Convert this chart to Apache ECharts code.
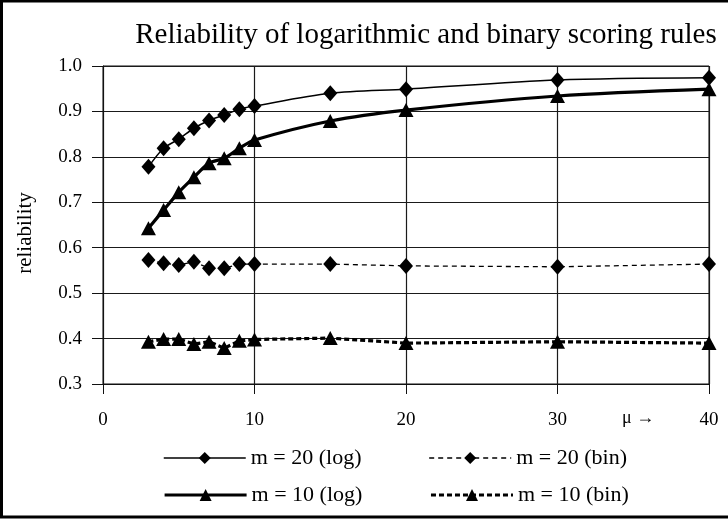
<!DOCTYPE html>
<html>
<head>
<meta charset="utf-8">
<script src="https://cdn.jsdelivr.net/npm/echarts@6/dist/echarts.min.js"></script>
<style>
html,body{margin:0;padding:0;background:#fff;}
#main{width:728px;height:519px;}
</style>
</head>
<body>
<div id="main"></div>
<script>
var xValues = [3, 4, 5, 6, 7, 8, 9, 10, 15, 20, 30, 40];
var m20log = [0.778, 0.819, 0.839, 0.863, 0.880, 0.892, 0.905, 0.912, 0.940, 0.949, 0.969, 0.974];
var m10log = [0.643, 0.683, 0.722, 0.755, 0.786, 0.797, 0.819, 0.837, 0.879, 0.903, 0.934, 0.949];
var m20bin = [0.573, 0.566, 0.562, 0.569, 0.555, 0.555, 0.564, 0.564, 0.564, 0.560, 0.558, 0.564];
var m10bin = [0.393, 0.399, 0.399, 0.388, 0.393, 0.379, 0.395, 0.398, 0.401, 0.390, 0.393, 0.390];
var seriesNames = ['m = 20 (log)', 'm = 20 (bin)', 'm = 10 (log)', 'm = 10 (bin)'];
var titleText = 'Reliability of logarithmic and binary scoring rules';
var yName = 'reliability';
var xNameText = 'μ →';

function pairs(ys) { return xValues.map(function (x, i) { return [x, ys[i]]; }); }

var FONT = '"Liberation Serif", "DejaVu Serif", serif';
var chart = echarts.init(document.getElementById('main'), null, {renderer: 'canvas'});
var legendText = {fontFamily: FONT, fontSize: 22, color: '#000'};
var lines = [
  {color: '#000', width: 1.5, type: 'solid'},
  {color: '#000', width: 1.3, type: [5, 4]},
  {color: '#000', width: 3.2, type: 'solid'},
  {color: '#000', width: 3.2, type: [5, 3]}
];
var option = {
  backgroundColor: '#fff',
  animation: false,
  title: {
    text: titleText, left: 421, top: 16, textAlign: 'center',
    textStyle: {fontFamily: FONT, fontSize: 29, fontWeight: 'normal', color: '#000'}
  },
  grid: {left: 103, right: 19, top: 66, bottom: 135, show: true, borderColor: '#111', borderWidth: 1},
  xAxis: {
    type: 'value', min: 0, max: 40, interval: 10,
    axisLine: {show: true, onZero: false, lineStyle: {color: '#111', width: 1}},
    axisTick: {show: true, length: 10, lineStyle: {color: '#111'}},
    axisLabel: {fontFamily: FONT, fontSize: 19, color: '#000', margin: 27},
    splitLine: {show: true, lineStyle: {color: '#1a1a1a', width: 1.2}}
  },
  yAxis: {
    type: 'value', min: 0.3, max: 1.0, interval: 0.1,
    axisLine: {show: true, lineStyle: {color: '#111', width: 1}},
    axisTick: {show: true, length: 11, lineStyle: {color: '#111'}},
    axisLabel: {fontFamily: FONT, fontSize: 19, color: '#000', margin: 21,
      formatter: function (v) { return v.toFixed(1); }},
    splitLine: {show: true, lineStyle: {color: '#1a1a1a', width: 1.2}}
  },
  legend: [
    {data: [{name: seriesNames[0], lineStyle: lines[0]}, {name: seriesNames[1], lineStyle: lines[1]}],
      left: 158, top: 442, itemWidth: 82, itemHeight: 15, itemGap: 67, textStyle: legendText},
    {data: [{name: seriesNames[2], lineStyle: lines[2]}, {name: seriesNames[3], lineStyle: lines[3]}],
      left: 158, top: 479, itemWidth: 82, itemHeight: 15, itemGap: 67, textStyle: legendText}
  ],
  graphic: [
    {type: 'rect', shape: {x: 1.5, y: 1, width: 760, height: 516}, style: {fill: 'none', stroke: '#000', lineWidth: 3}, silent: true},
    {type: 'text', x: 622, y: 418, style: {text: xNameText, font: '18px ' + FONT, fill: '#000', textVerticalAlign: 'middle'}},
    {type: 'text', x: 25, y: 233, rotation: Math.PI / 2,
      style: {text: yName, font: '21px ' + FONT, fill: '#000', textAlign: 'center', textVerticalAlign: 'middle'}}
  ],
  series: [
    {name: seriesNames[0], type: 'line', data: pairs(m20log), smooth: 0.3,
      symbol: 'diamond', symbolSize: [14, 16], lineStyle: lines[0], itemStyle: {color: '#000'}},
    {name: seriesNames[1], type: 'line', data: pairs(m20bin),
      symbol: 'diamond', symbolSize: [14, 16], lineStyle: lines[1], itemStyle: {color: '#000'}},
    {name: seriesNames[2], type: 'line', data: pairs(m10log), smooth: 0.3,
      symbol: 'triangle', symbolSize: [15, 14], lineStyle: lines[2], itemStyle: {color: '#000'}},
    {name: seriesNames[3], type: 'line', data: pairs(m10bin),
      symbol: 'triangle', symbolSize: [15, 14], lineStyle: lines[3], itemStyle: {color: '#000'}}
  ]
};
chart.setOption(option);
</script>
</body>
</html>
